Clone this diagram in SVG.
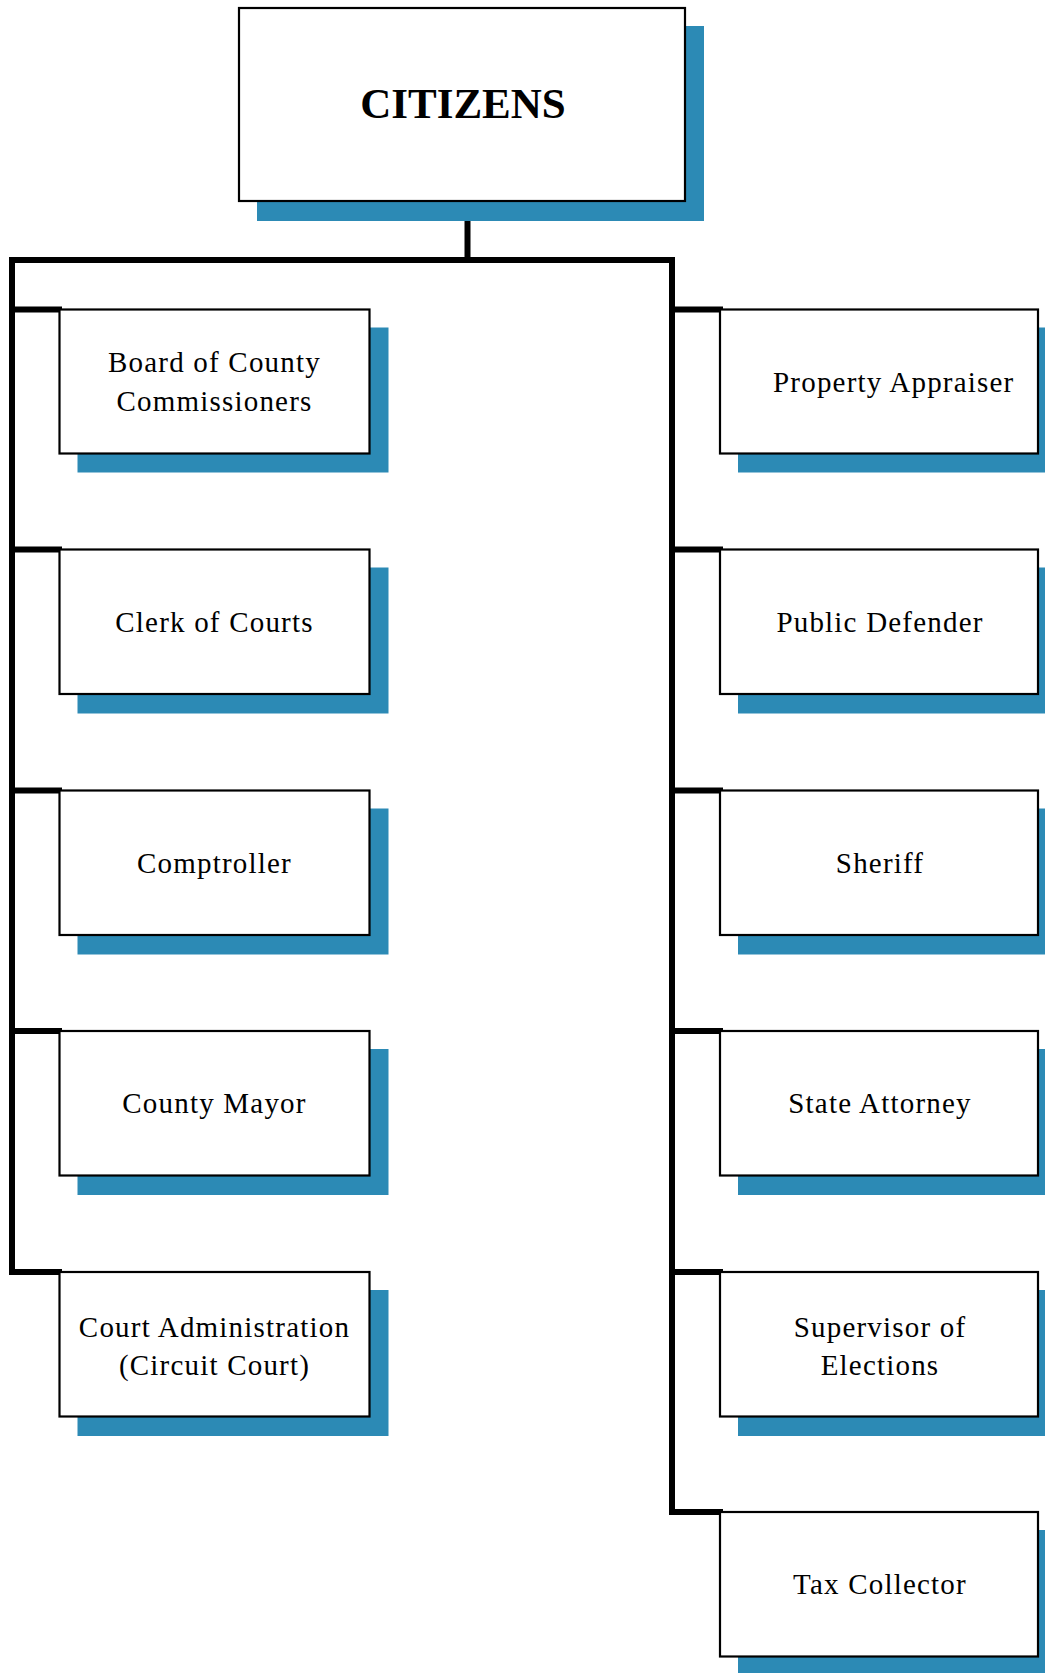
<svg xmlns="http://www.w3.org/2000/svg" width="1045" height="1673" viewBox="0 0 1045 1673">
<style>
.sh{fill:#2c8ab5}
.bx{fill:#fff;stroke:#000;stroke-width:2.2}
.t{font-family:"Liberation Serif","Times New Roman",serif;font-size:29px;letter-spacing:1.2px;text-anchor:middle;fill:#000}
.tb{font-family:"Liberation Serif","Times New Roman",serif;font-size:43px;font-weight:bold;text-anchor:middle;fill:#000}
.ln{fill:none;stroke:#000;stroke-width:6;stroke-linejoin:miter;stroke-linecap:square}
</style>
<rect width="1045" height="1673" fill="#fff"/>
<g id="connectors">
<path class="ln" d="M467.5,201 V260"/>
<path class="ln" d="M59,309.5 H12 V260 H672 V1512 H720"/>
<path class="ln" d="M12,309.5 V1272 H59"/>
<path class="ln" d="M12,549.5 H59 M12,790.5 H59 M12,1031 H59"/>
<path class="ln" d="M672,309.5 H720 M672,549.5 H720 M672,790.5 H720 M672,1031 H720 M672,1272 H720"/>
</g>
<g id="citizens">
<rect class="sh" x="257" y="26" width="447" height="195"/>
<rect class="bx" x="239" y="8" width="446" height="193"/>
<text class="tb" x="463" y="118">CITIZENS</text>
</g>
<g id="board">
<rect class="sh" x="77.5" y="327.5" width="311" height="145"/>
<rect class="bx" x="59.5" y="309.5" width="310" height="144"/>
<text class="t" x="214.5" y="371.5">Board of County</text>
<text class="t" x="214.5" y="410.5">Commissioners</text>
</g>
<g id="clerk">
<rect class="sh" x="77.5" y="567.5" width="311" height="146"/>
<rect class="bx" x="59.5" y="549.5" width="310" height="144.5"/>
<text class="t" x="214.5" y="631.5">Clerk of Courts</text>
</g>
<g id="comptroller">
<rect class="sh" x="77.5" y="808.5" width="311" height="146"/>
<rect class="bx" x="59.5" y="790.5" width="310" height="144.5"/>
<text class="t" x="214.5" y="872.5">Comptroller</text>
</g>
<g id="mayor">
<rect class="sh" x="77.5" y="1049" width="311" height="146"/>
<rect class="bx" x="59.5" y="1031" width="310" height="144.5"/>
<text class="t" x="214.5" y="1113">County Mayor</text>
</g>
<g id="courtadmin">
<rect class="sh" x="77.5" y="1290" width="311" height="146"/>
<rect class="bx" x="59.5" y="1272" width="310" height="144.5"/>
<text class="t" x="214.5" y="1337">Court Administration</text>
<text class="t" x="214.5" y="1375">(Circuit Court)</text>
</g>
<g id="appraiser">
<rect class="sh" x="738" y="327.5" width="319" height="145"/>
<rect class="bx" x="720" y="309.5" width="318" height="144"/>
<text class="t" x="773" y="391.5" style="text-anchor:start">Property Appraiser</text>
</g>
<g id="defender">
<rect class="sh" x="738" y="567.5" width="319" height="146"/>
<rect class="bx" x="720" y="549.5" width="318" height="144.5"/>
<text class="t" x="880" y="631.5">Public Defender</text>
</g>
<g id="sheriff">
<rect class="sh" x="738" y="808.5" width="319" height="146"/>
<rect class="bx" x="720" y="790.5" width="318" height="144.5"/>
<text class="t" x="880" y="872.5">Sheriff</text>
</g>
<g id="attorney">
<rect class="sh" x="738" y="1049" width="319" height="146"/>
<rect class="bx" x="720" y="1031" width="318" height="144.5"/>
<text class="t" x="880" y="1113">State Attorney</text>
</g>
<g id="elections">
<rect class="sh" x="738" y="1290" width="319" height="146"/>
<rect class="bx" x="720" y="1272" width="318" height="144.5"/>
<text class="t" x="880" y="1337">Supervisor of</text>
<text class="t" x="880" y="1375">Elections</text>
</g>
<g id="taxcollector">
<rect class="sh" x="738" y="1530" width="319" height="146"/>
<rect class="bx" x="720" y="1512" width="318" height="144.5"/>
<text class="t" x="880" y="1594">Tax Collector</text>
</g>
</svg>
